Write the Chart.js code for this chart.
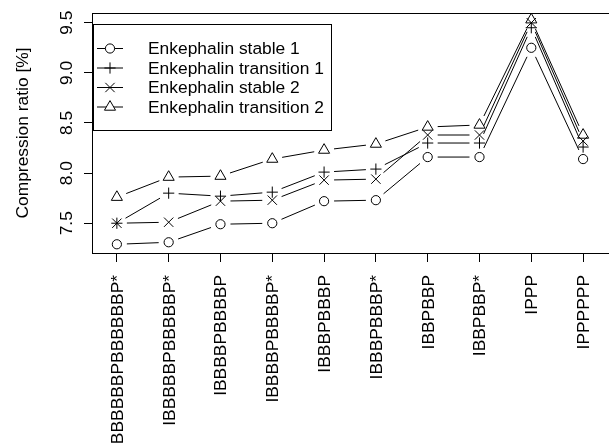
<!DOCTYPE html>
<html>
<head>
<meta charset="utf-8">
<script src="https://cdn.jsdelivr.net/npm/chart.js@4"></script>
<style>
  html, body { margin: 0; padding: 0; background: #fff; }
  #wrap { width: 609px; height: 445px; overflow: hidden; }
</style>
</head>
<body>
<div id="wrap"><canvas id="chart" width="609" height="445"></canvas></div>
<script>
// categories (x axis, rotated labels)
const categories = [
  "IBBBBBBPBBBBBBP*", "IBBBBBPBBBBBP*", "IBBBBPBBBBP", "IBBBBPBBBBP*", "IBBBPBBBP",
  "IBBBPBBBP*", "IBBPBBP", "IBBPBBP*", "IPPP", "IPPPPPP"
];

// series values
const stable1 = [7.29, 7.31, 7.49, 7.50, 7.72, 7.73, 8.16, 8.16, 9.25, 8.14];
const transition1 = [7.50, 7.80, 7.77, 7.81, 8.01, 8.04, 8.30, 8.30, 9.45, 8.26];
const stable2 = [7.50, 7.51, 7.72, 7.73, 7.93, 7.94, 8.38, 8.38, 9.50, 8.32];
const transition2 = [7.76, 7.96, 7.97, 8.14, 8.23, 8.29, 8.46, 8.48, 9.53, 8.38];

const yTicks = [7.5, 8.0, 8.5, 9.0, 9.5];
const yTickLabels = ["7.5", "8.0", "8.5", "9.0", "9.5"];

const FONT = "'Liberation Sans', Arial, Helvetica, sans-serif";
const FONT_SIZE = 17.4;
const GAP = 10; // R type="b" gap around points

const series = [
  { label: "Enkephalin stable 1", data: stable1, style: "circle", r: 4.6 },
  { label: "Enkephalin transition 1", data: transition1, style: "cross", r: 5.6 },
  { label: "Enkephalin stable 2", data: stable2, style: "crossRot", r: 6.6 },
  { label: "Enkephalin transition 2", data: transition2, style: "triangle", r: 6.4 }
];

// leave a gap at both ends of every segment, like R's type="b"
function gapDash(c) {
  const L = Math.hypot(c.p1.x - c.p0.x, c.p1.y - c.p0.y);
  if (L <= 2 * GAP) return [0, L + 1];
  return [0, GAP, L - 2 * GAP, GAP];
}

const datasets = series.map(s => ({
  label: s.label,
  data: s.data.map((v, i) => ({ x: i + 1, y: v })),
  borderColor: "#000",
  borderWidth: 1,
  tension: 0,
  fill: false,
  segment: { borderDash: gapDash },
  pointStyle: s.style,
  pointRadius: s.r,
  pointBorderColor: "#000",
  pointBackgroundColor: "rgba(0,0,0,0)",
  pointBorderWidth: 1
}));

// plot box, rotated tick labels, axis title, legend
const decorations = {
  id: "decorations",
  afterDraw(chart) {
    const ctx = chart.ctx;
    const area = chart.chartArea;
    const xs = chart.scales.x;
    const ys = chart.scales.y;
    ctx.save();
    ctx.strokeStyle = "#000";
    ctx.lineWidth = 1;
    // the right side of the box falls just outside the picture
    ctx.strokeRect(Math.round(area.left) + 0.5, Math.round(area.top) + 0.5,
      Math.round(area.right - area.left) + 3, Math.round(area.bottom - area.top));

    ctx.fillStyle = "#000";
    ctx.font = FONT_SIZE + "px " + FONT;
    ctx.textBaseline = "alphabetic";

    // x labels, vertical, ending just under the ticks
    ctx.textAlign = "right";
    categories.forEach((c, i) => {
      ctx.save();
      ctx.translate(xs.getPixelForValue(i + 1) + 6, area.bottom + 22);
      ctx.rotate(-Math.PI / 2);
      ctx.fillText(c, 0, 0);
      ctx.restore();
    });

    ctx.textAlign = "center";
    yTicks.forEach((v, i) => {
      ctx.save();
      ctx.translate(72, ys.getPixelForValue(v));
      ctx.rotate(-Math.PI / 2);
      ctx.fillText(yTickLabels[i], 0, 0);
      ctx.restore();
    });
    ctx.save();
    ctx.translate(28, (area.top + area.bottom) / 2);
    ctx.rotate(-Math.PI / 2);
    ctx.fillText("Compression ratio [%]", 0, 0);
    ctx.restore();

    // legend
    const lx = 93.5, ly = 24.5, lw = 238, lh = 106;
    ctx.strokeRect(lx, ly, lw, lh);
    ctx.textAlign = "left";
    ctx.textBaseline = "middle";
    series.forEach((s, i) => {
      const y = 48.5 + i * 19.5;
      ctx.beginPath();
      ctx.moveTo(97, y);
      ctx.lineTo(123, y);
      ctx.stroke();
      ctx.fillStyle = "#fff";
      if (Chart.helpers && Chart.helpers.drawPoint) {
        Chart.helpers.drawPoint(ctx, { pointStyle: s.style, radius: s.r, borderWidth: 1, rotation: 0 }, 110, y);
      }
      ctx.fillStyle = "#000";
      ctx.fillText(s.label, 148, y + 1);
    });
    ctx.restore();
  }
};

new Chart(document.getElementById("chart"), {
  type: "line",
  data: { datasets },
  options: {
    responsive: false,
    animation: false,
    layout: { autoPadding: false, padding: { top: 13, right: 0, left: 0, bottom: 0 } },
    plugins: { legend: { display: false }, tooltip: { enabled: false } },
    scales: {
      x: {
        type: "linear",
        min: 0.52,
        max: 10.5,
        afterBuildTicks: s => { s.ticks = categories.map((c, i) => ({ value: i + 1 })); },
        afterFit: s => { s.height = 192; },
        ticks: { display: false },
        grid: { drawOnChartArea: false, drawTicks: true, tickLength: 9, color: "#000" },
        border: { display: false }
      },
      y: {
        type: "linear",
        min: 7.203,
        max: 9.597,
        afterBuildTicks: s => { s.ticks = yTicks.map(v => ({ value: v })); },
        afterFit: s => { s.width = 92; },
        ticks: { display: false },
        grid: { drawOnChartArea: false, drawTicks: true, tickLength: 8, color: "#000" },
        border: { display: false }
      }
    }
  },
  plugins: [decorations]
});
</script>
</body>
</html>
